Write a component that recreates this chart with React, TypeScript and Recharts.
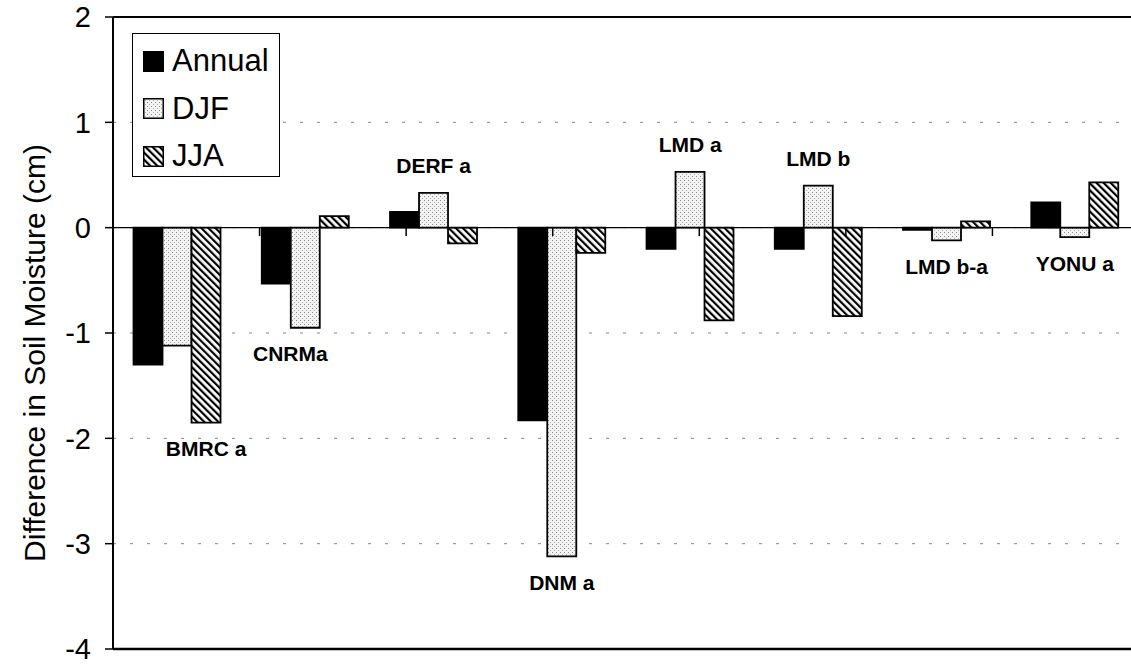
import React from 'react';
import {
  ComposedChart,
  Bar,
  Line,
  XAxis,
  YAxis,
  CartesianGrid,
  ReferenceLine,
  Legend,
  LabelList,
} from 'recharts';

const categories = ['BMRC a', 'CNRMa', 'DERF a', 'DNM a', 'LMD a', 'LMD b', 'LMD b-a', 'YONU a'];
const annual = [-1.3, -0.53, 0.15, -1.83, -0.2, -0.2, -0.02, 0.24];
const djf = [-1.12, -0.95, 0.33, -3.12, 0.53, 0.4, -0.12, -0.09];
const jja = [-1.85, 0.11, -0.15, -0.24, -0.88, -0.84, 0.06, 0.43];
// which side of the group the model name sits on
const labelSide = ['below', 'below', 'above', 'below', 'above', 'above', 'below', 'below'];
const yTicks = [-4, -3, -2, -1, 0, 1, 2];
const groupEdges = [1, 2, 3, 4, 5, 6, 7];

const series = [
  { key: 'annual', name: 'Annual', fill: '#000' },
  { key: 'djf', name: 'DJF', fill: 'url(#dots)' },
  { key: 'jja', name: 'JJA', fill: 'url(#hatch)' },
];

// nudges for the two labels that were set off-centre in the original
const labelDx: Record<string, number> = { 'BMRC a': 29, CNRMa: -15 };

const data = categories.map((name, i) => {
  const vals = [annual[i], djf[i], jja[i]];
  return {
    name,
    annual: annual[i],
    djf: djf[i],
    jja: jja[i],
    anchor: labelSide[i] === 'above' ? Math.max(...vals) : Math.min(...vals),
  };
});

const font = 'Arial, "Liberation Sans", Helvetica, sans-serif';

const Patterns = () => (
  <svg width={0} height={0} style={{ position: 'absolute' }}>
    <defs>
      <pattern id="dots" width={4} height={4} patternUnits="userSpaceOnUse">
        <rect width={4} height={4} fill="#f3f3f3" />
        <rect x={0} y={0} width={1} height={1} fill="#8a8a8a" />
        <rect x={2} y={2} width={1} height={1} fill="#b0b0b0" />
      </pattern>
      <pattern id="hatch" width={5} height={5} patternUnits="userSpaceOnUse" patternTransform="rotate(-45)">
        <rect width={5} height={5} fill="#fff" />
        <rect x={0} y={0} width={2.2} height={5} fill="#000" />
      </pattern>
    </defs>
  </svg>
);

const ModelLabel = (props: any) => {
  const { x, y, index } = props;
  const name = categories[index];
  const above = labelSide[index] === 'above';
  return (
    <text
      x={x + (labelDx[name] || 0)}
      y={y + (above ? -27 : 26)}
      textAnchor="middle"
      dominantBaseline="central"
      fontFamily={font}
      fontWeight="bold"
      fontSize={21}
      fill="#000"
    >
      {name}
    </text>
  );
};

const LegendBox = () => (
  <div
    style={{
      width: 146,
      height: 142,
      border: '1.5px solid #000',
      background: '#fff',
      fontFamily: font,
      fontSize: 31,
      boxSizing: 'content-box',
    }}
  >
    {series.map((s, i) => (
      <div
        key={s.key}
        style={{ position: 'absolute', left: 11, top: 17 + i * 47.5, display: 'flex', alignItems: 'center', height: 22 }}
      >
        <svg width={21} height={21} style={{ marginRight: 8 }}>
          <rect x={0.75} y={0.75} width={19.5} height={19.5} fill={s.fill} stroke="#000" strokeWidth={1.5} />
        </svg>
        <span style={{ lineHeight: '22px' }}>{s.name}</span>
      </div>
    ))}
  </div>
);

const YTitle = (props: any) => {
  const { viewBox } = props;
  const cx = 34;
  const cy = viewBox.y + viewBox.height / 2 + 20;
  return (
    <text
      x={cx}
      y={cy}
      transform={`rotate(-90, ${cx}, ${cy})`}
      textAnchor="middle"
      dominantBaseline="central"
      fontFamily={font}
      fontSize={30}
      fill="#000"
    >
      Difference in Soil Moisture (cm)
    </text>
  );
};

export default function App() {
  return (
    <div style={{ position: 'absolute', left: 0, top: 0, width: 1131, height: 664, overflow: 'hidden', background: '#fff' }}>
      <Patterns />
      <ComposedChart
        width={1145}
        height={664}
        data={data}
        margin={{ top: 17, right: 6, left: 0, bottom: 15 }}
        barCategoryGap="16%"
        barGap={0}
      >
        <CartesianGrid vertical={false} stroke="#888" strokeDasharray="3 14" />
        <XAxis xAxisId="cat" dataKey="name" hide />
        <XAxis xAxisId="num" type="number" domain={[0, 8]} hide />
        <YAxis
          domain={[-4, 2]}
          ticks={yTicks}
          interval={0}
          width={113}
          tickSize={8}
          tickMargin={14}
          tick={{ fontSize: 29, fill: '#000', fontFamily: font }}
          tickLine={{ stroke: '#000', strokeWidth: 1.5 }}
          axisLine={{ stroke: '#000', strokeWidth: 2 }}
          label={<YTitle />}
        />
        <ReferenceLine xAxisId="cat" y={2} stroke="#000" strokeWidth={2} />
        <ReferenceLine xAxisId="cat" y={-4} stroke="#000" strokeWidth={2.5} />
        <ReferenceLine xAxisId="cat" y={0} stroke="#000" strokeWidth={1.2} />
        {groupEdges.map((e) => (
          <ReferenceLine
            key={e}
            xAxisId="num"
            segment={[
              { x: e, y: 0 },
              { x: e, y: -0.08 },
            ]}
            stroke="#000"
            strokeWidth={1.5}
          />
        ))}
        {series.map((s) => (
          <Bar
            key={s.key}
            xAxisId="cat"
            dataKey={s.key}
            name={s.name}
            fill={s.fill}
            stroke="#000"
            strokeWidth={1.8}
            isAnimationActive={false}
          />
        ))}
        <Line
          xAxisId="cat"
          dataKey="anchor"
          stroke="none"
          dot={false}
          activeDot={false}
          legendType="none"
          isAnimationActive={false}
        >
          <LabelList dataKey="anchor" content={<ModelLabel />} />
        </Line>
        <Legend
          layout="vertical"
          align="center"
          verticalAlign="middle"
          content={<LegendBox />}
          wrapperStyle={{ left: 132, top: 33, width: 'auto', position: 'absolute' }}
        />
      </ComposedChart>
    </div>
  );
}
